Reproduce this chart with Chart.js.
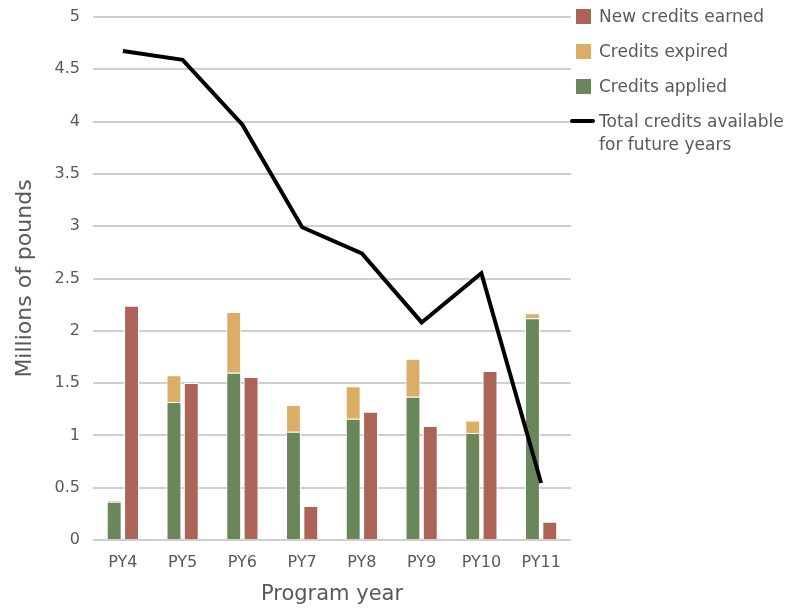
<!DOCTYPE html>
<html>
<head>
<meta charset="utf-8">
<script src="https://cdn.jsdelivr.net/npm/chart.js@4.4.0/dist/chart.umd.min.js"></script>
<style>
  body { margin: 0; background: #fff; }
  #wrap { position: relative; width: 806px; height: 609px; }
  #legend { position: absolute; left: 570px; top: 5px; font-family: "DejaVu Sans", sans-serif; font-size: 17px; color: #595959; }
  .item { position: relative; height: 35px; padding-left: 29px; line-height: 23px; white-space: nowrap; }
  .box { position: absolute; left: 6px; top: 4px; width: 15px; height: 15px; }
  .ln { position: absolute; left: 0; top: 9px; width: 25px; height: 4px; border-radius: 2px; background: #000; }
</style>
</head>
<body>
<div id="wrap">
  <canvas id="canvas1" width="806" height="609"></canvas>
  <div id="legend"></div>
</div>
<script>
// program years
let years = ['PY4', 'PY5', 'PY6', 'PY7', 'PY8', 'PY9', 'PY10', 'PY11'];

// millions of pounds
let applied = [0.366, 1.32, 1.60, 1.035, 1.16, 1.37, 1.023, 2.12];
let expired = [0.015, 0.255, 0.58, 0.255, 0.31, 0.363, 0.12, 0.047];
let earned  = [2.24, 1.50, 1.558, 0.325, 1.227, 1.09, 1.616, 0.175];
let available = [4.675, 4.59, 3.97, 2.99, 2.74, 2.08, 2.55, 0.545];

let red = 'rgb(173,100,88)';
let yellow = 'rgb(219,174,104)';
let green = 'rgb(106,135,91)';
let grey = '#595959';
let font = 'DejaVu Sans';

let options = {
  type: 'bar',
  data: {
    labels: years,
    datasets: [
      {
        type: 'line',
        label: 'Total credits available for future years',
        data: available,
        borderColor: '#000',
        borderWidth: 4,
        pointRadius: 0,
        tension: 0,
        fill: false,
        order: 0
      },
      {
        label: 'Credits applied',
        data: applied,
        backgroundColor: green,
        borderColor: '#fff',
        borderWidth: 1,
        borderSkipped: 'bottom',
        stack: 'used',
        order: 1
      },
      {
        label: 'Credits expired',
        data: expired,
        backgroundColor: yellow,
        borderColor: '#fff',
        borderWidth: 1,
        borderSkipped: 'bottom',
        stack: 'used',
        order: 1
      },
      {
        label: 'New credits earned',
        data: earned,
        backgroundColor: red,
        borderColor: '#fff',
        borderWidth: 1,
        borderSkipped: 'bottom',
        stack: 'new',
        order: 1
      }
    ]
  },
  options: {
    responsive: false,
    animation: false,
    layout: { padding: { left: 0, right: 235, top: 17, bottom: 0 } },
    datasets: {
      bar: { categoryPercentage: 0.58, barPercentage: 0.86 }
    },
    plugins: {
      legend: { display: false },
      tooltip: { enabled: false }
    },
    scales: {
      x: {
        stacked: true,
        grid: { display: false, drawTicks: false },
        border: { display: false },
        ticks: { color: grey, padding: 13, font: { family: font, size: 16 } },
        title: {
          display: true,
          text: 'Program year',
          color: grey,
          padding: { top: 0, bottom: 2 },
          font: { family: font, size: 21 }
        },
        afterFit: function(axis) {
          axis.height = 69;
          axis.paddingLeft = 0;
          axis.paddingRight = 0;
        }
      },
      y: {
        stacked: true,
        min: 0,
        max: 5,
        ticks: {
          stepSize: 0.5,
          color: grey,
          padding: 13,
          font: { family: font, size: 16 },
          callback: function(v) { return String(v); }
        },
        grid: { color: '#cfcfcf', lineWidth: 2, drawTicks: false },
        border: { display: false },
        title: {
          display: true,
          text: 'Millions of pounds',
          color: grey,
          padding: { top: 12, bottom: 0 },
          font: { family: font, size: 22 }
        },
        afterFit: function(axis) {
          axis.width = 93;
          axis.paddingTop = 0;
          axis.paddingBottom = 0;
        }
      }
    }
  }
};

let chart = new Chart(document.getElementById('canvas1'), options);

// legend on the right, in the same order as the reference
let legendItems = [
  { text: 'New credits earned', color: red },
  { text: 'Credits expired', color: yellow },
  { text: 'Credits applied', color: green },
  { text: 'Total credits available<br>for future years', line: true }
];
let html = '';
for (let i = 0; i < legendItems.length; i++) {
  let it = legendItems[i];
  let mark = it.line ? '<span class="ln"></span>' : '<span class="box" style="background:' + it.color + '"></span>';
  html += '<div class="item">' + mark + it.text + '</div>';
}
document.getElementById('legend').innerHTML = html;
</script>
</body>
</html>
